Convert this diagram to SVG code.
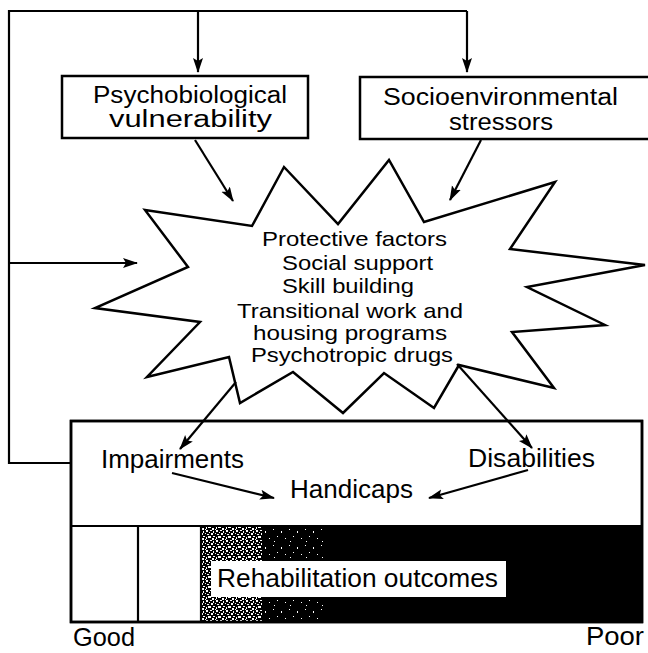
<svg xmlns="http://www.w3.org/2000/svg" width="648" height="653" viewBox="0 0 648 653">
<style>
  .box{fill:#fff;stroke:#000;stroke-width:2.5}
  .ln{fill:none;stroke:#000;stroke-width:2.2}
  .arr{fill:none;stroke:#000;stroke-width:2.2;marker-end:url(#ah)}
  text{font-family:"Liberation Sans",Arial,sans-serif;fill:#000}
  .t25{font-size:23px}
  .t23{font-size:21px}
  .t26{font-size:25px}
</style>
<defs>
  <marker id="ah" markerUnits="userSpaceOnUse" markerWidth="16" markerHeight="12" refX="14" refY="5" orient="auto">
    <path d="M0,0 L15,5 L0,10 L3,5 Z" fill="#000"/>
  </marker>
  <pattern id="dA" width="10" height="10" patternUnits="userSpaceOnUse">
    <rect width="10" height="10" fill="#000"/>
    <rect x="0" y="0" width="2" height="1" fill="#fff"/>
    <rect x="3" y="1" width="1" height="2" fill="#fff"/>
    <rect x="6" y="0" width="2" height="2" fill="#fff"/>
    <rect x="9" y="2" width="1" height="1" fill="#fff"/>
    <rect x="1" y="3" width="2" height="2" fill="#fff"/>
    <rect x="5" y="3" width="1" height="1" fill="#fff"/>
    <rect x="7" y="4" width="2" height="1" fill="#fff"/>
    <rect x="0" y="6" width="1" height="2" fill="#fff"/>
    <rect x="3" y="6" width="2" height="1" fill="#fff"/>
    <rect x="6" y="7" width="1" height="2" fill="#fff"/>
    <rect x="8" y="6" width="2" height="2" fill="#fff"/>
    <rect x="2" y="8" width="2" height="2" fill="#fff"/>
    <rect x="5" y="9" width="1" height="1" fill="#fff"/>
  </pattern>
  <pattern id="dB" width="16" height="16" patternUnits="userSpaceOnUse">
    <rect width="16" height="16" fill="#000"/>
    <rect x="1" y="1" width="1" height="1" fill="#fff"/>
    <rect x="9" y="3" width="1" height="2" fill="#fff"/>
    <rect x="5" y="8" width="1" height="1" fill="#fff"/>
    <rect x="13" y="10" width="1" height="1" fill="#fff"/>
    <rect x="2" y="13" width="1" height="1" fill="#fff"/>
  </pattern>
</defs>

<g id="node-psychobiological">
  <rect class="box" x="62" y="76" width="246" height="62"/>
  <text class="t25" x="93" y="103" textLength="194" lengthAdjust="spacingAndGlyphs">Psychobiological</text>
  <text class="t25" x="109" y="127" textLength="163" lengthAdjust="spacingAndGlyphs">vulnerability</text>
</g>

<g id="node-socioenvironmental">
  <rect class="box" x="360" y="77" width="300" height="62"/>
  <text class="t25" x="383" y="105" textLength="235" lengthAdjust="spacingAndGlyphs">Socioenvironmental</text>
  <text class="t25" x="449" y="130" textLength="104" lengthAdjust="spacingAndGlyphs">stressors</text>
</g>

<g id="node-protective">
  <polygon class="box" points="145,210 252,226 284,167 338,224 389,160 424,222 555,182 510,249 645,265 527,287 605,325 512,332 554,388 459,365 434,408 384,373 343,413 293,372 240,403 229,357 147,377 200,322 95,308 188,267"/>
  <text class="t23" x="262" y="246" textLength="185" lengthAdjust="spacingAndGlyphs">Protective factors</text>
  <text class="t23" x="282" y="270" textLength="151" lengthAdjust="spacingAndGlyphs">Social support</text>
  <text class="t23" x="282" y="293" textLength="132" lengthAdjust="spacingAndGlyphs">Skill building</text>
  <text class="t23" x="237" y="318" textLength="226" lengthAdjust="spacingAndGlyphs">Transitional work and</text>
  <text class="t23" x="253" y="340" textLength="194" lengthAdjust="spacingAndGlyphs">housing programs</text>
  <text class="t23" x="251" y="362" textLength="202" lengthAdjust="spacingAndGlyphs">Psychotropic drugs</text>
</g>

<g id="node-outcomes">
  <rect class="box" x="71" y="421" width="571" height="201"/>
  <rect x="202" y="526" width="60" height="96" fill="url(#dA)"/>
  <rect x="262" y="526" width="61" height="96" fill="url(#dB)"/>
  <rect x="323" y="526" width="319" height="96" fill="#000"/>
  <line class="ln" x1="71" y1="526" x2="642" y2="526"/>
  <line class="ln" x1="138" y1="526" x2="138" y2="622"/>
  <line class="ln" x1="201" y1="526" x2="201" y2="622"/>
  <rect x="71" y="421" width="571" height="201" style="fill:none;stroke:#000;stroke-width:2.5"/>
  <rect x="211" y="561" width="295" height="36" fill="#fff"/>
  <text class="t26" x="101" y="468" textLength="143" lengthAdjust="spacingAndGlyphs">Impairments</text>
  <text class="t26" x="468" y="467" textLength="127" lengthAdjust="spacingAndGlyphs">Disabilities</text>
  <text class="t26" x="290" y="498" textLength="123" lengthAdjust="spacingAndGlyphs">Handicaps</text>
  <text class="t26" x="217" y="587" textLength="281" lengthAdjust="spacingAndGlyphs">Rehabilitation outcomes</text>
</g>

<g id="axis-labels">
  <text class="t26" x="73" y="646" textLength="62" lengthAdjust="spacingAndGlyphs">Good</text>
  <text class="t26" x="586" y="645" textLength="58" lengthAdjust="spacingAndGlyphs">Poor</text>
</g>

<g id="connectors">
  <polyline class="ln" points="71,463 9,463 9,11 467,11"/>
  <line class="arr" x1="198" y1="11" x2="198" y2="72"/>
  <line class="arr" x1="467" y1="11" x2="467" y2="72"/>
  <line class="arr" x1="9" y1="263" x2="137" y2="263"/>
  <line class="arr" x1="195" y1="140" x2="233" y2="201"/>
  <line class="arr" x1="481" y1="140" x2="450" y2="200"/>
  <line class="arr" x1="236" y1="382" x2="180" y2="449"/>
  <line class="arr" x1="457" y1="364" x2="532" y2="448"/>
  <line class="arr" x1="172" y1="473" x2="274" y2="498"/>
  <line class="arr" x1="528" y1="470" x2="429" y2="498"/>
</g>
</svg>
